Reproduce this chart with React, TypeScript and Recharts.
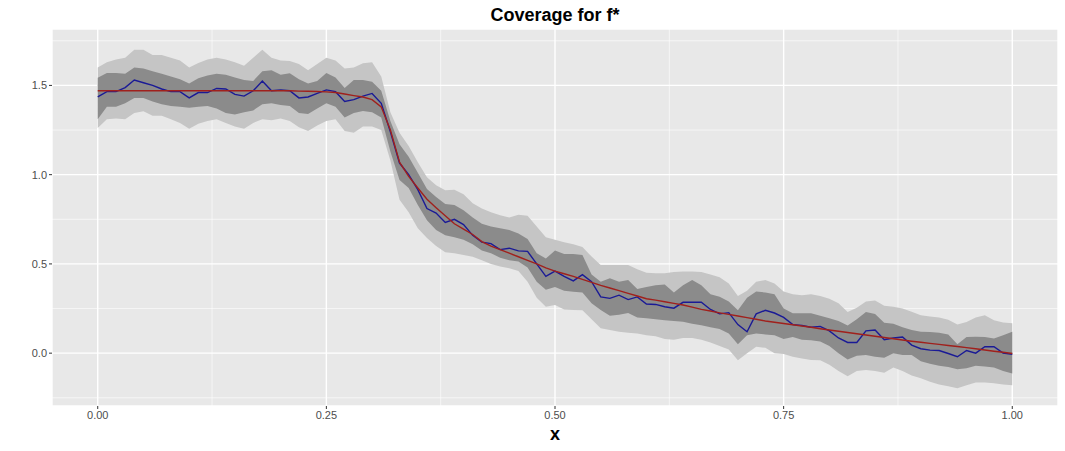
import React from 'react';
import { ComposedChart, Area, Line, XAxis, YAxis, CartesianGrid } from 'recharts';

// x grid (101 evaluation points on [0, 1])
const xs: number[] = Array.from({ length: 101 }, (_, i) => i / 100);

// estimated function (blue)
const estimate: number[] = [
  1.436, 1.465, 1.465, 1.488, 1.53, 1.515, 1.5, 1.48, 1.465, 1.465,
  1.43, 1.46, 1.46, 1.483, 1.48, 1.45, 1.44, 1.47, 1.525, 1.47,
  1.474, 1.47, 1.43, 1.435, 1.455, 1.475, 1.465, 1.41, 1.42, 1.44,
  1.455, 1.4, 1.24, 1.065, 1.0, 0.916, 0.81, 0.785, 0.732, 0.75,
  0.72, 0.66, 0.622, 0.614, 0.58, 0.588, 0.573, 0.57, 0.5, 0.43,
  0.46, 0.43, 0.405, 0.44, 0.4, 0.315, 0.307, 0.325, 0.3, 0.315,
  0.275, 0.273, 0.26, 0.252, 0.285, 0.285, 0.285, 0.245, 0.22, 0.227,
  0.16, 0.12, 0.22, 0.24, 0.225, 0.2, 0.16, 0.155, 0.145, 0.15,
  0.125, 0.085, 0.06, 0.06, 0.125, 0.13, 0.075, 0.085, 0.09, 0.045,
  0.025, 0.017, 0.015, -0.002, -0.02, 0.015, 0.0, 0.036, 0.036, 0.0,
  -0.006,
];

// true function f* (red)
const truth: number[] = [
  1.47, 1.47, 1.47, 1.47, 1.47, 1.47, 1.47, 1.47, 1.47, 1.47,
  1.47, 1.47, 1.47, 1.47, 1.47, 1.47, 1.47, 1.47, 1.47, 1.47,
  1.47, 1.47, 1.468, 1.467, 1.466, 1.464, 1.46, 1.452, 1.443, 1.435,
  1.42, 1.38, 1.25, 1.07, 0.99, 0.925, 0.862, 0.815, 0.77, 0.725,
  0.695, 0.665, 0.625, 0.6, 0.58, 0.56, 0.54, 0.52, 0.5, 0.478,
  0.46, 0.445, 0.43, 0.413, 0.397, 0.38, 0.365, 0.35, 0.335, 0.32,
  0.305, 0.297, 0.288, 0.279, 0.27, 0.258, 0.245, 0.236, 0.226, 0.217,
  0.208, 0.199, 0.19, 0.18, 0.173, 0.166, 0.159, 0.152, 0.145, 0.137,
  0.13, 0.123, 0.116, 0.109, 0.102, 0.095, 0.088, 0.081, 0.074, 0.067,
  0.061, 0.055, 0.049, 0.043, 0.037, 0.031, 0.025, 0.018, 0.011, 0.005,
  -0.002,
];

// outer band (light grey)
const outerHi: number[] = [
  1.6, 1.63, 1.645, 1.655, 1.7, 1.7, 1.67, 1.67, 1.655, 1.64,
  1.6, 1.625, 1.645, 1.655, 1.645, 1.63, 1.61, 1.655, 1.7, 1.655,
  1.64, 1.637, 1.62, 1.585, 1.62, 1.655, 1.64, 1.595, 1.6, 1.624,
  1.63, 1.55, 1.35, 1.235, 1.16, 1.07, 0.985, 0.94, 0.912, 0.915,
  0.89, 0.84, 0.81, 0.79, 0.772, 0.76, 0.775, 0.77, 0.71, 0.65,
  0.635, 0.622, 0.61, 0.595, 0.541, 0.494, 0.494, 0.494, 0.494, 0.47,
  0.45, 0.448, 0.448, 0.455, 0.457, 0.457, 0.455, 0.44, 0.425, 0.39,
  0.32, 0.35, 0.4, 0.41, 0.39, 0.345, 0.33, 0.325, 0.33, 0.32,
  0.305, 0.28, 0.23, 0.255, 0.29, 0.295, 0.265, 0.26, 0.25, 0.232,
  0.213, 0.206, 0.2, 0.187, 0.16, 0.175, 0.2, 0.213, 0.185, 0.172,
  0.167,
];
const outerLo: number[] = [
  1.262, 1.31, 1.315, 1.31, 1.345, 1.355, 1.33, 1.33, 1.31, 1.29,
  1.257, 1.285, 1.3, 1.31, 1.29, 1.27, 1.257, 1.29, 1.31, 1.305,
  1.315, 1.3, 1.265, 1.245, 1.275, 1.3, 1.31, 1.245, 1.235, 1.27,
  1.27, 1.25, 1.08, 0.86, 0.79, 0.7, 0.645, 0.6, 0.565, 0.56,
  0.55, 0.54, 0.52, 0.5, 0.485, 0.475, 0.46, 0.4, 0.31, 0.26,
  0.27, 0.245, 0.242, 0.24, 0.19, 0.139, 0.13, 0.12, 0.115, 0.11,
  0.1, 0.095, 0.08, 0.075, 0.085, 0.085, 0.075, 0.06, 0.04, 0.02,
  -0.04, 0.0, 0.036, 0.03, 0.0, -0.005, -0.02, -0.03, -0.038, -0.04,
  -0.065, -0.1, -0.13, -0.1, -0.095, -0.1, -0.11, -0.08, -0.1, -0.125,
  -0.14, -0.16, -0.175, -0.185, -0.197, -0.18, -0.165, -0.165, -0.168, -0.175,
  -0.18,
];

// inner band (dark grey)
const innerHi: number[] = [
  1.543, 1.57, 1.57, 1.565, 1.6, 1.595, 1.58, 1.565, 1.55, 1.534,
  1.51, 1.54, 1.555, 1.565, 1.56, 1.545, 1.53, 1.525, 1.58, 1.585,
  1.56, 1.568, 1.535, 1.51, 1.525, 1.57, 1.545, 1.485, 1.53, 1.53,
  1.52, 1.47, 1.3, 1.17, 1.1, 1.01, 0.92, 0.875, 0.835, 0.83,
  0.8, 0.76, 0.725, 0.71, 0.7, 0.69, 0.67, 0.64, 0.56, 0.53,
  0.575, 0.555, 0.555, 0.55, 0.44, 0.4, 0.42, 0.4, 0.41, 0.36,
  0.37, 0.38, 0.385, 0.34, 0.38, 0.41, 0.38, 0.33, 0.316, 0.29,
  0.24, 0.31, 0.345, 0.34, 0.33, 0.25, 0.223, 0.223, 0.223, 0.21,
  0.195, 0.18, 0.155, 0.19, 0.23, 0.22, 0.17, 0.165, 0.145, 0.13,
  0.12, 0.118, 0.115, 0.105, 0.05, 0.09, 0.092, 0.09, 0.082, 0.1,
  0.12,
];
const innerLo: number[] = [
  1.31, 1.38, 1.38, 1.4, 1.43, 1.43, 1.41, 1.395, 1.385, 1.38,
  1.375, 1.38, 1.385, 1.37, 1.345, 1.337, 1.35, 1.36, 1.395, 1.4,
  1.39, 1.384, 1.345, 1.34, 1.37, 1.4, 1.38, 1.32, 1.345, 1.356,
  1.35, 1.32, 1.13, 0.97, 0.925, 0.83, 0.745, 0.69, 0.66, 0.65,
  0.635, 0.61, 0.575, 0.56, 0.535, 0.52, 0.513, 0.48, 0.4, 0.355,
  0.37, 0.35, 0.344, 0.34, 0.28, 0.242, 0.21, 0.215, 0.225, 0.2,
  0.195, 0.19, 0.185, 0.18, 0.176, 0.165, 0.157, 0.145, 0.135, 0.11,
  0.05, 0.1, 0.11, 0.105, 0.1, 0.08, 0.09, 0.075, 0.073, 0.065,
  0.04, 0.0, -0.035, -0.015, -0.01, -0.02, -0.025, 0.0, -0.01, -0.01,
  -0.045, -0.06, -0.07, -0.077, -0.09, -0.085, -0.07, -0.075, -0.08, -0.1,
  -0.114,
];

const xTicks: number[] = [0, 0.25, 0.5, 0.75, 1];
const yTicks: number[] = [0, 0.5, 1, 1.5];
const xMinor: number[] = [0.125, 0.375, 0.625, 0.875];
const yMinor: number[] = [-0.25, 0.25, 0.75, 1.25, 1.75];

const X_DOMAIN: [number, number] = [-0.05, 1.05];
const Y_DOMAIN: [number, number] = [-0.296, 1.816];

const data = xs.map((x, i) => ({
  x,
  estimate: estimate[i],
  truth: truth[i],
  outer: [outerLo[i], outerHi[i]],
  inner: [innerLo[i], innerHi[i]],
}));

const minorH = (props: any) => {
  const { yAxis, offset } = props;
  return yMinor.map((v) => {
    if (yAxis && typeof yAxis.scale === 'function') return yAxis.scale(v);
    return offset.top + (offset.height * (Y_DOMAIN[1] - v)) / (Y_DOMAIN[1] - Y_DOMAIN[0]);
  });
};
const minorV = (props: any) => {
  const { xAxis, offset } = props;
  return xMinor.map((v) => {
    if (xAxis && typeof xAxis.scale === 'function') return xAxis.scale(v);
    return offset.left + (offset.width * (v - X_DOMAIN[0])) / (X_DOMAIN[1] - X_DOMAIN[0]);
  });
};

const FONT = '"Liberation Sans", Arial, Helvetica, sans-serif';

export default function App() {
  return (
    <div
      style={{
        position: 'absolute',
        left: 0,
        top: 0,
        width: 1065,
        height: 451,
        background: '#FFFFFF',
        fontFamily: FONT,
      }}
    >
      <div
        style={{
          position: 'absolute',
          left: 52,
          width: 1006,
          top: 5,
          textAlign: 'center',
          fontWeight: 'bold',
          fontSize: 18,
          color: '#000',
          lineHeight: '21px',
        }}
      >
        Coverage for f*
      </div>
      <ComposedChart
        width={1065}
        height={451}
        data={data}
        margin={{ top: 29, right: 7, bottom: 15, left: 8 }}
        style={{ fontFamily: FONT }}
      >
        <CartesianGrid
          fill="#E8E8E8"
          stroke="#FFFFFF"
          strokeWidth={0.6}
          horizontalCoordinatesGenerator={minorH}
          verticalCoordinatesGenerator={minorV}
        />
        <CartesianGrid stroke="#FFFFFF" strokeWidth={1.4} />
        <XAxis
          type="number"
          dataKey="x"
          domain={X_DOMAIN}
          ticks={xTicks}
          allowDataOverflow
          height={30}
          tickSize={3}
          tickMargin={2}
          axisLine={false}
          tickLine={{ stroke: '#333333', strokeWidth: 1 }}
          tick={{ fill: '#4D4D4D', fontSize: 11 }}
          tickFormatter={(v: number) => v.toFixed(2)}
        />
        <YAxis
          type="number"
          domain={Y_DOMAIN}
          ticks={yTicks}
          allowDataOverflow
          width={44}
          tickSize={3}
          tickMargin={2}
          axisLine={false}
          tickLine={{ stroke: '#333333', strokeWidth: 1 }}
          tick={{ fill: '#4D4D4D', fontSize: 11 }}
          tickFormatter={(v: number) => v.toFixed(1)}
        />
        <Area
          type="linear"
          dataKey="outer"
          stroke="none"
          fill="#C5C5C5"
          fillOpacity={1}
          isAnimationActive={false}
          activeDot={false}
        />
        <Area
          type="linear"
          dataKey="inner"
          stroke="none"
          fill="#8B8B8B"
          fillOpacity={1}
          isAnimationActive={false}
          activeDot={false}
        />
        <Line
          type="linear"
          dataKey="estimate"
          stroke="#1A1A96"
          strokeWidth={1.4}
          dot={false}
          activeDot={false}
          isAnimationActive={false}
        />
        <Line
          type="linear"
          dataKey="truth"
          stroke="#A0201C"
          strokeWidth={1.4}
          dot={false}
          activeDot={false}
          isAnimationActive={false}
        />
      </ComposedChart>
      <div
        style={{
          position: 'absolute',
          left: 52,
          width: 1006,
          top: 424,
          textAlign: 'center',
          fontWeight: 'bold',
          fontSize: 18,
          color: '#000',
          lineHeight: '21px',
        }}
      >
        x
      </div>
    </div>
  );
}
